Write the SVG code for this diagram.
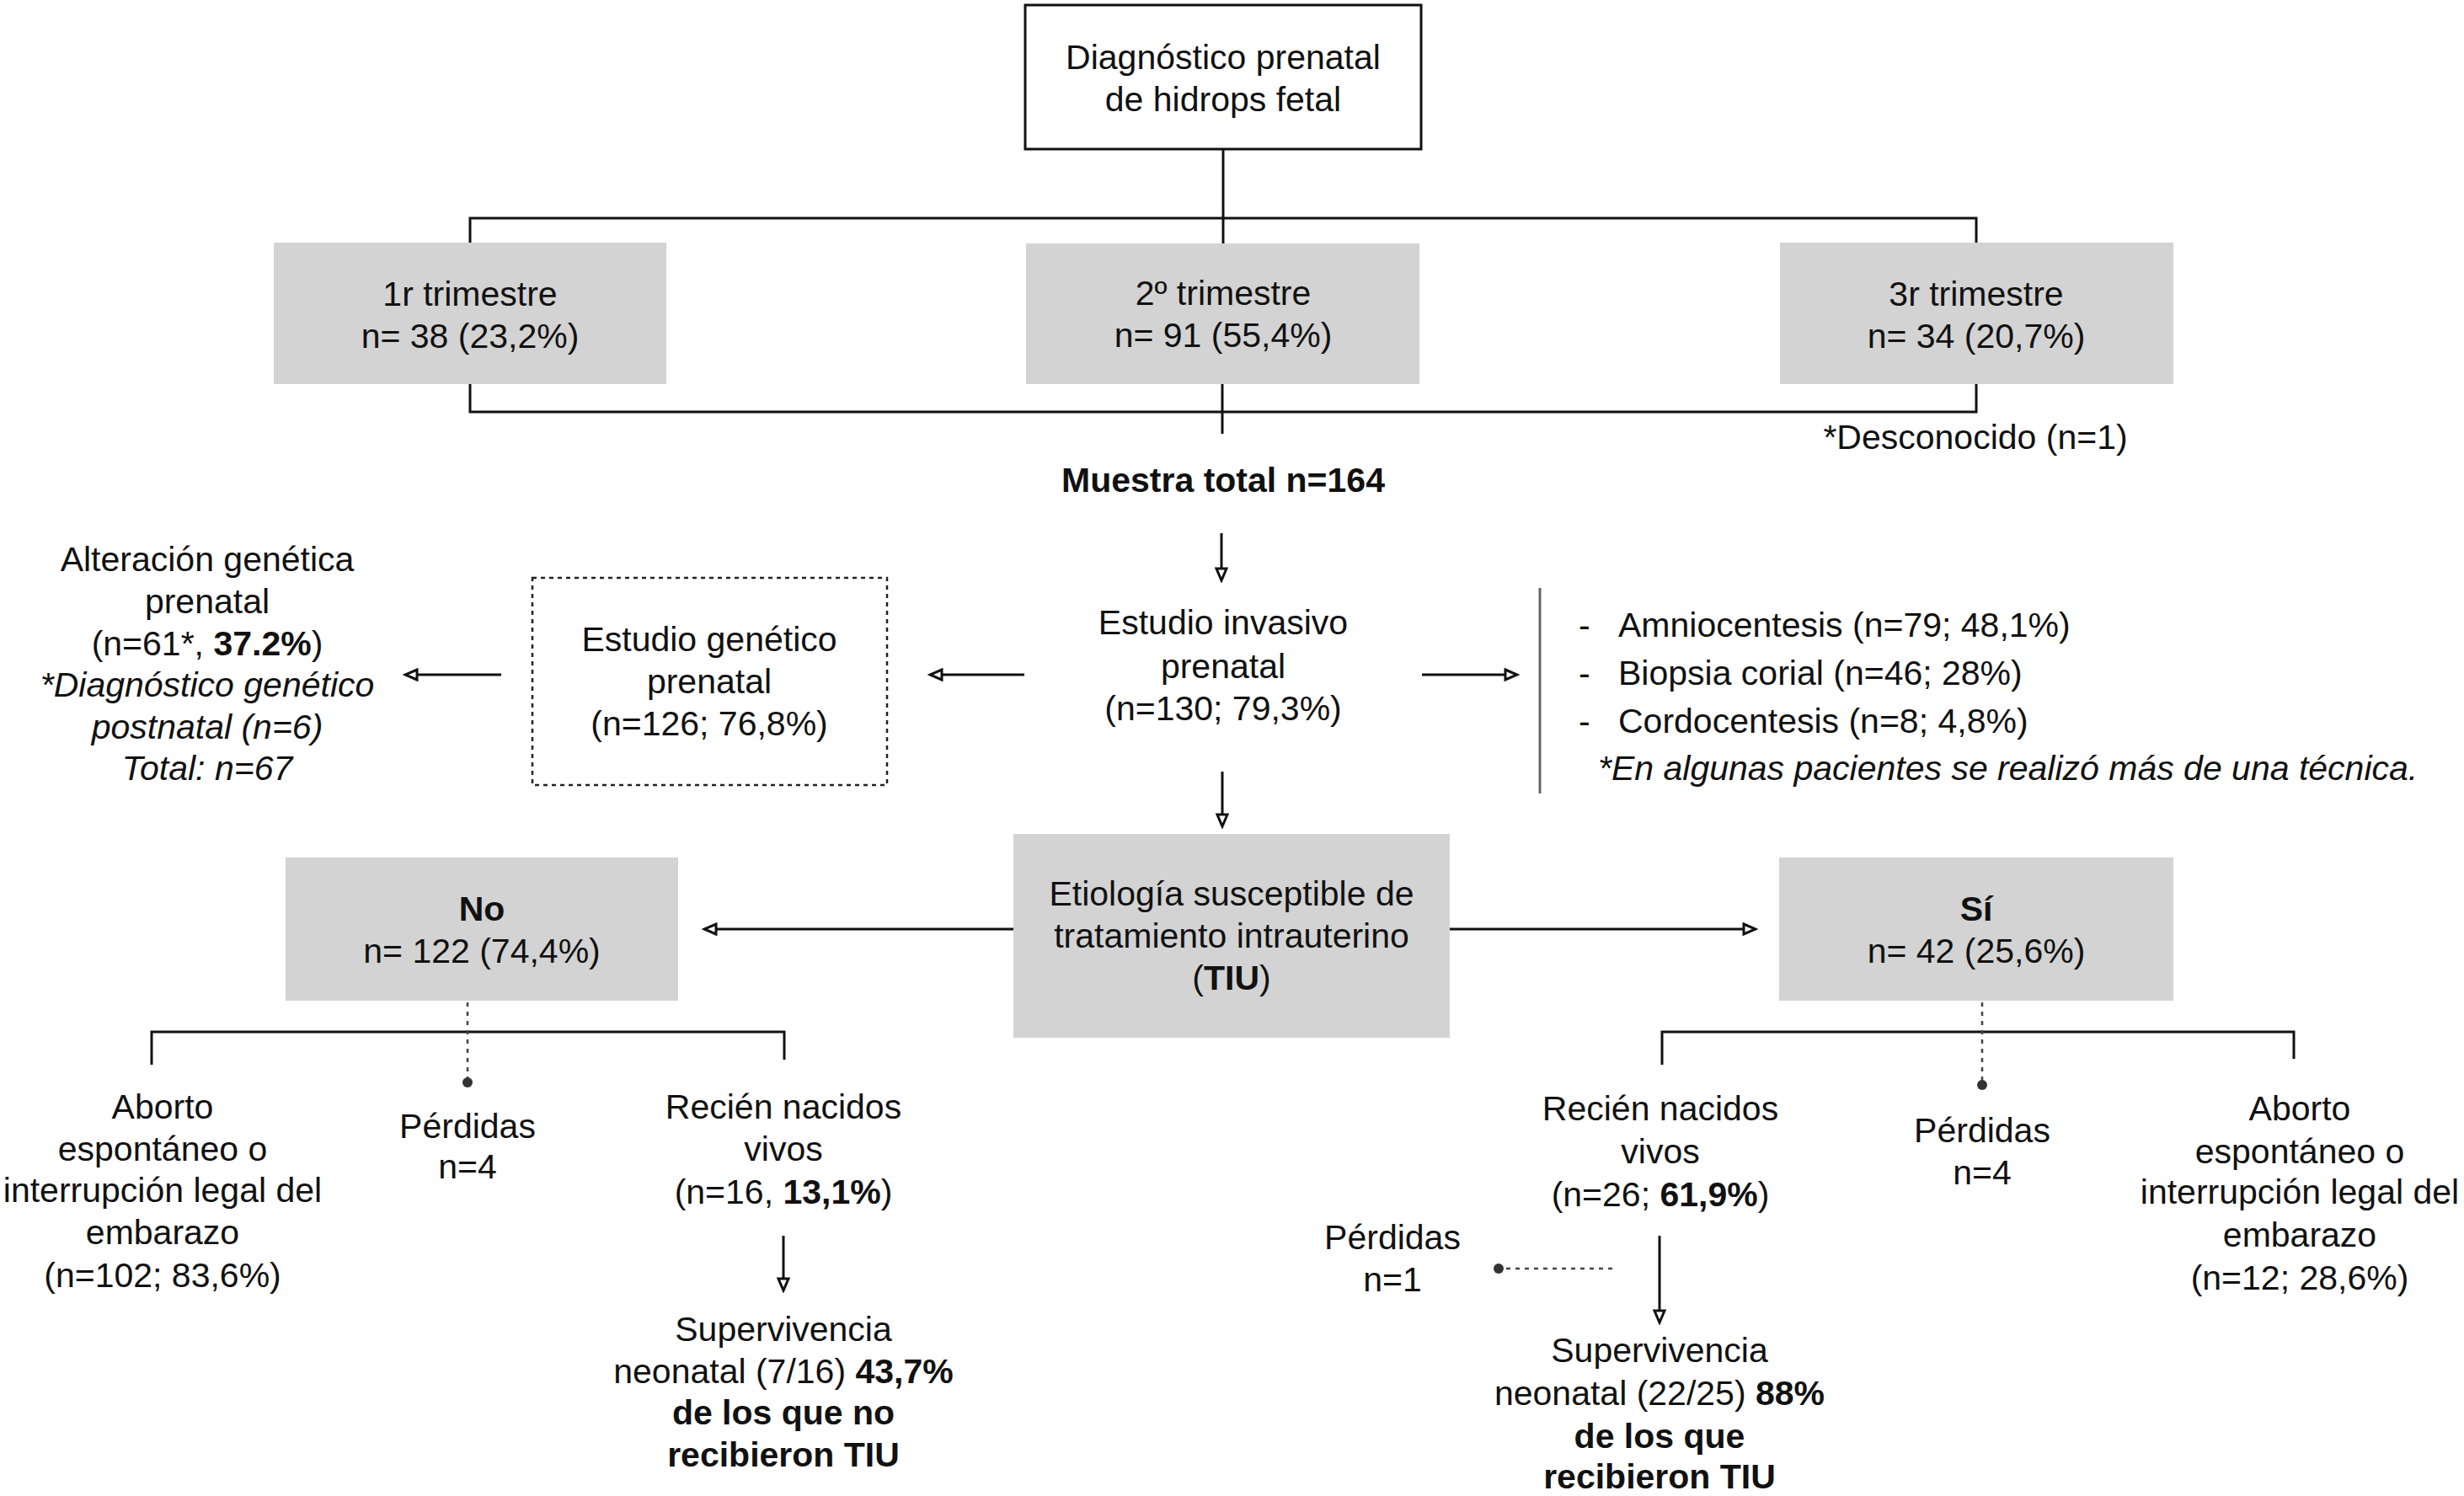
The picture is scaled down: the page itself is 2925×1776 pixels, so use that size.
<svg xmlns="http://www.w3.org/2000/svg" width="2925" height="1776" viewBox="0 0 2925 1776">
<style>
text{font-family:"Liberation Sans",Arial,sans-serif;font-size:41px;fill:#111;text-anchor:middle}
.b{font-weight:bold}
.i{font-style:italic}
.l{text-anchor:start}
.box{fill:#d3d3d3;stroke:none}
.ln{stroke:#111;stroke-width:3;fill:none}
.arr{stroke:#111;stroke-width:3;fill:none;marker-end:url(#ah)}
.dot{stroke:#444;stroke-width:2.5;stroke-dasharray:5 6;fill:none}
</style>
<defs>
<marker id="ah" markerUnits="userSpaceOnUse" markerWidth="20" markerHeight="16" viewBox="0 0 20 16" refX="17" refY="8" orient="auto">
<path d="M3,2 L17,8 L3,14 Z" fill="#fff" stroke="#111" stroke-width="3" stroke-linejoin="miter"/>
</marker>
</defs>
<rect width="2925" height="1776" fill="#fff"/>

<g id="connectors">
<line class="ln" x1="1452" y1="177" x2="1452" y2="289"/>
<polyline class="ln" points="558,288 558,259 2346,259 2346,288"/>
<polyline class="ln" points="558,456 558,489 2346,489 2346,456"/>
<line class="ln" x1="1451" y1="456" x2="1451" y2="515"/>
<line class="arr" x1="1450" y1="633" x2="1450" y2="689"/>
<line class="arr" x1="1216" y1="801" x2="1104" y2="801"/>
<line class="arr" x1="1688" y1="801" x2="1801" y2="801"/>
<line x1="1828" y1="698" x2="1828" y2="942" stroke="#666" stroke-width="3"/>
<line class="arr" x1="595" y1="801" x2="481" y2="801"/>
<line class="arr" x1="1451" y1="916" x2="1451" y2="981"/>
<line class="arr" x1="1203" y1="1103" x2="836" y2="1103"/>
<line class="arr" x1="1721" y1="1103" x2="2084" y2="1103"/>
<polyline class="ln" points="180,1264 180,1225 931,1225 931,1258"/>
<line class="dot" x1="555" y1="1190" x2="555" y2="1280"/>
<circle cx="555" cy="1285" r="6" fill="#333"/>
<line class="arr" x1="930" y1="1467" x2="930" y2="1532"/>
<polyline class="ln" points="1973,1264 1973,1225 2723,1225 2723,1257"/>
<line class="dot" x1="2353" y1="1190" x2="2353" y2="1283"/>
<circle cx="2353" cy="1288" r="6" fill="#333"/>
<line class="arr" x1="1970" y1="1467" x2="1970" y2="1570"/>
<line class="dot" x1="1914" y1="1506" x2="1785" y2="1506"/>
<circle cx="1779" cy="1506" r="6" fill="#333"/>
</g>

<g id="n-diagnostico">
<rect x="1217" y="6" width="470" height="171" fill="#fff" stroke="#111" stroke-width="3"/>
<text x="1452" y="82">Diagnóstico prenatal</text>
<text x="1452" y="132">de hidrops fetal</text>
</g>

<g id="n-t1">
<rect class="box" x="325" y="288" width="466" height="168"/>
<text x="558" y="363">1r trimestre</text>
<text x="558" y="413">n= 38 (23,2%)</text>
</g>
<g id="n-t2">
<rect class="box" x="1218" y="289" width="467" height="167"/>
<text x="1452" y="362">2º trimestre</text>
<text x="1452" y="412">n= 91 (55,4%)</text>
</g>
<g id="n-t3">
<rect class="box" x="2113" y="288" width="467" height="168"/>
<text x="2346" y="363">3r trimestre</text>
<text x="2346" y="413">n= 34 (20,7%)</text>
</g>
<g id="n-desconocido">
<text x="2345" y="533">*Desconocido (n=1)</text>
</g>
<g id="n-muestra">
<text class="b" x="1452" y="584">Muestra total n=164</text>
</g>

<g id="n-alteracion">
<text x="246" y="678">Alteración genética</text>
<text x="246" y="728">prenatal</text>
<text x="246" y="778">(n=61*, <tspan class="b">37.2%</tspan>)</text>
<text class="i" x="246" y="827">*Diagnóstico genético</text>
<text class="i" x="246" y="877">postnatal (n=6)</text>
<text class="i" x="246" y="926">Total: n=67</text>
</g>

<g id="n-estudio-genetico">
<rect x="632" y="686" width="421" height="246" fill="none" stroke="#222" stroke-width="2.5" stroke-dasharray="5 5"/>
<text x="842" y="773">Estudio genético</text>
<text x="842" y="823">prenatal</text>
<text x="842" y="873">(n=126; 76,8%)</text>
</g>

<g id="n-estudio-invasivo">
<text x="1452" y="753">Estudio invasivo</text>
<text x="1452" y="805">prenatal</text>
<text x="1452" y="855">(n=130; 79,3%)</text>
</g>

<g id="n-tecnicas">
<text class="l" x="1874" y="756">-</text>
<text class="l" x="1921" y="756">Amniocentesis (n=79; 48,1%)</text>
<text class="l" x="1874" y="813">-</text>
<text class="l" x="1921" y="813">Biopsia corial (n=46; 28%)</text>
<text class="l" x="1874" y="870">-</text>
<text class="l" x="1921" y="870">Cordocentesis (n=8; 4,8%)</text>
<text class="l i" x="1897" y="926">*En algunas pacientes se realizó más de una técnica.</text>
</g>

<g id="n-tiu">
<rect class="box" x="1203" y="990" width="518" height="242"/>
<text x="1462" y="1075">Etiología susceptible de</text>
<text x="1462" y="1125">tratamiento intrauterino</text>
<text x="1462" y="1175">(<tspan class="b">TIU</tspan>)</text>
</g>

<g id="n-no">
<rect class="box" x="339" y="1018" width="466" height="170"/>
<text class="b" x="572" y="1093">No</text>
<text x="572" y="1143">n= 122 (74,4%)</text>
</g>

<g id="n-si">
<rect class="box" x="2112" y="1018" width="468" height="170"/>
<text class="b" x="2346" y="1093">Sí</text>
<text x="2346" y="1143">n= 42 (25,6%)</text>
</g>

<g id="n-aborto-no">
<text x="193" y="1328">Aborto</text>
<text x="193" y="1378">espontáneo o</text>
<text x="193" y="1427">interrupción legal del</text>
<text x="193" y="1477">embarazo</text>
<text x="193" y="1528">(n=102; 83,6%)</text>
</g>
<g id="n-perdidas-no">
<text x="555" y="1351">Pérdidas</text>
<text x="555" y="1399">n=4</text>
</g>
<g id="n-rn-no">
<text x="930" y="1328">Recién nacidos</text>
<text x="930" y="1378">vivos</text>
<text x="930" y="1429">(n=16, <tspan class="b">13,1%</tspan>)</text>
</g>
<g id="n-superv-no">
<text x="930" y="1592">Supervivencia</text>
<text x="930" y="1642">neonatal (7/16) <tspan class="b">43,7%</tspan></text>
<text class="b" x="930" y="1691">de los que no</text>
<text class="b" x="930" y="1741">recibieron TIU</text>
</g>

<g id="n-rn-si">
<text x="1971" y="1330">Recién nacidos</text>
<text x="1971" y="1381">vivos</text>
<text x="1971" y="1432">(n=26; <tspan class="b">61,9%</tspan>)</text>
</g>
<g id="n-perdidas-si">
<text x="2353" y="1356">Pérdidas</text>
<text x="2353" y="1406">n=4</text>
</g>
<g id="n-aborto-si">
<text x="2730" y="1330">Aborto</text>
<text x="2730" y="1381">espontáneo o</text>
<text x="2730" y="1429">interrupción legal del</text>
<text x="2730" y="1480">embarazo</text>
<text x="2730" y="1531">(n=12; 28,6%)</text>
</g>
<g id="n-perdidas-rn">
<text x="1653" y="1483">Pérdidas</text>
<text x="1653" y="1533">n=1</text>
</g>
<g id="n-superv-si">
<text x="1970" y="1617">Supervivencia</text>
<text x="1970" y="1668">neonatal (22/25) <tspan class="b">88%</tspan></text>
<text class="b" x="1970" y="1719">de los que</text>
<text class="b" x="1970" y="1767">recibieron TIU</text>
</g>
</svg>
